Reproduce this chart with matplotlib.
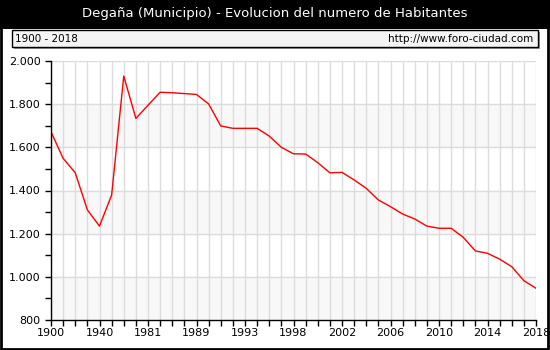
import matplotlib
matplotlib.use("Agg")
import matplotlib.pyplot as plt
from matplotlib.patches import Rectangle
from matplotlib.ticker import FuncFormatter, MultipleLocator

# datos
years = ['1900', '1910', '1920', '1930', '1940', '1950', '1960', '1970', '1981',
         '1986', '1987', '1988', '1989', '1990', '1991', '1992', '1993', '1994',
         '1995', '1996', '1998', '1999', '2000', '2001', '2002', '2003', '2004',
         '2005', '2006', '2007', '2008', '2009', '2010', '2011', '2012', '2013',
         '2014', '2015', '2016', '2017', '2018']
habitantes = [1672, 1549, 1482, 1310, 1235, 1379, 1930, 1734, 1795,
              1855, 1853, 1849, 1845, 1801, 1699, 1688, 1688, 1688,
              1652, 1600, 1570, 1569, 1529, 1482, 1484, 1449, 1410,
              1356, 1325, 1291, 1268, 1235, 1225, 1225, 1183, 1120,
              1109, 1082, 1047, 982, 947]
tick_labels = years[::4]

W, H = 550, 350
fig = plt.figure(figsize=(W / 100, H / 100), dpi=100)
fig.patch.set_facecolor('white')

# barra del titulo y borde
fig.patches.append(Rectangle((0, 1 - 29 / H), 1, 29 / H, transform=fig.transFigure,
                             facecolor='black', edgecolor='none', zorder=0))
fig.patches.append(Rectangle((1 / W, 1 / H), 1 - 3 / W, 1 - 2 / H, transform=fig.transFigure,
                             facecolor='none', edgecolor='black', lw=2, zorder=5))
fig.text(0.5, 1 - 14 / H, 'Degaña (Municipio) - Evolucion del numero de Habitantes',
         color='white', ha='center', va='center', fontsize=9.5)

# caja del subtitulo
fig.patches.append(Rectangle((14 / W, 1 - 49 / H), 526 / W, 17 / H, transform=fig.transFigure,
                             facecolor='#999999', edgecolor='none', zorder=1))
fig.patches.append(Rectangle((12 / W, 1 - 47 / H), 526 / W, 17 / H, transform=fig.transFigure,
                             facecolor='#f4f4f4', edgecolor='black', lw=1, zorder=2))
fig.text(15 / W, 1 - 38.5 / H, '1900 - 2018', ha='left', va='center', fontsize=7.5, zorder=3)
fig.text(533 / W, 1 - 38.5 / H, 'http://www.foro-ciudad.com', ha='right', va='center',
         fontsize=7.5, zorder=3)

ax = fig.add_axes([51 / W, 30 / H, 485 / W, 259 / H])
x = list(range(len(years)))
ax.set_xlim(0, len(years) - 1)
ax.set_ylim(800, 2000)

for lo in (800, 1200, 1600):
    ax.axhspan(lo, lo + 200, color='#f8f8f8', zorder=0)
for xi in x:
    ax.axvline(xi, color='#dcdcdc', lw=1, zorder=1)
for yv in range(1000, 2001, 200):
    ax.axhline(yv, color='#dcdcdc', lw=1, zorder=1)

ax.plot(x, habitantes, color='red', lw=1, zorder=3)

ax.set_xticks(x)
ax.set_xticklabels([y if i % 4 == 0 else '' for i, y in enumerate(years)])
ax.yaxis.set_major_locator(MultipleLocator(200))
ax.yaxis.set_minor_locator(MultipleLocator(100))
ax.yaxis.set_major_formatter(FuncFormatter(lambda v, p: f'{int(v):,}'.replace(',', '.')))
ax.tick_params(axis='both', which='both', direction='out', length=4, width=1,
               labelsize=8, color='black')
ax.tick_params(axis='x', pad=2)
for s in ('top', 'right'):
    ax.spines[s].set_visible(False)
for s in ('left', 'bottom'):
    ax.spines[s].set_linewidth(1)
    ax.spines[s].set_zorder(4)

fig.savefig('out.png', dpi=100)
